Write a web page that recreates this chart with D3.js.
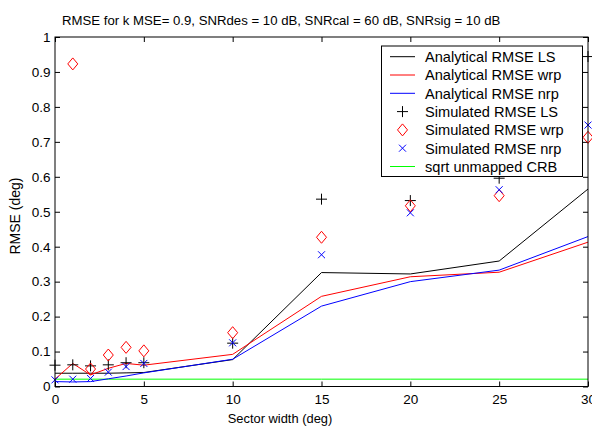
<!DOCTYPE html>
<html>
<head>
<meta charset="utf-8">
<script src="https://cdn.jsdelivr.net/npm/d3@7"></script>
<style>
  html, body { margin: 0; padding: 0; background: #fff; }
  svg { display: block; font-family: "Liberation Sans", Arial, sans-serif; }
</style>
</head>
<body>
<svg id="chart" width="592" height="426"></svg>
<script>
// Sector widths (deg)
const sectorWidth = [0, 1, 2, 3, 4, 5, 10, 15, 20, 25, 30];

// Analytical RMSE curves
const anaLS  = [0.038, 0.038, 0.038, 0.038, 0.039, 0.040, 0.077, 0.326, 0.322, 0.359, 0.565];
const anaWRP = [0.021, 0.066, 0.033, 0.052, 0.066, 0.061, 0.092, 0.258, 0.314, 0.327, 0.413];
const anaNRP = [0.014, 0.013, 0.014, 0.022, 0.030, 0.039, 0.078, 0.230, 0.300, 0.333, 0.429];

// Simulated RMSE points (null = not drawn)
const simLS  = [0.061, 0.062, 0.059, 0.062, 0.068, 0.068, 0.124, 0.536, 0.532, 0.596, 0.944];
const simWRP = [null, 0.923, 0.050, 0.090, 0.112, 0.102, 0.154, 0.427, 0.517, 0.546, 0.713];
const simNRP = [0.019, 0.021, 0.023, 0.041, 0.057, 0.066, 0.125, 0.377, 0.497, 0.563, 0.748];

// Unmapped CRB (constant)
const crb = [0.021, 0.021, 0.021, 0.021, 0.021, 0.021, 0.021, 0.021, 0.021, 0.021, 0.021];

const xTicks = [0, 5, 10, 15, 20, 25, 30];
const yTicks = [0, 0.1, 0.2, 0.3, 0.4, 0.5, 0.6, 0.7, 0.8, 0.9, 1];

const titleText = "RMSE for k MSE= 0.9, SNRdes = 10 dB, SNRcal = 60 dB, SNRsig = 10 dB";
const xLabel = "Sector width (deg)";
const yLabel = "RMSE (deg)";

const legendItems = [
  { label: "Analytical RMSE LS",  kind: "line", color: "#000000" },
  { label: "Analytical RMSE wrp", kind: "line", color: "#ff0000" },
  { label: "Analytical RMSE nrp", kind: "line", color: "#0000ff" },
  { label: "Simulated RMSE LS",   kind: "plus", color: "#000000" },
  { label: "Simulated RMSE wrp",  kind: "diamond", color: "#ff0000" },
  { label: "Simulated RMSE nrp",  kind: "cross", color: "#0000ff" },
  { label: "sqrt unmapped CRB",   kind: "line", color: "#00ff00" }
];

const svg = d3.select("#chart");
const plot = { left: 55, right: 588, top: 37, bottom: 386.5 };

const x = d3.scaleLinear().domain([0, 30]).range([plot.left, plot.right]);
const y = d3.scaleLinear().domain([0, 1]).range([plot.bottom, plot.top]);

const tickFont = 13.5;
const FONT = "Liberation Sans, Arial, sans-serif";

// Axes with inward ticks on all four sides
const fmt = d => String(+d.toFixed(1));
svg.append("g")
  .attr("transform", `translate(0,${plot.bottom})`)
  .call(d3.axisBottom(x).tickValues(xTicks).tickSize(-5).tickPadding(8).tickFormat(d3.format("d")))
  .call(g => g.select(".domain").remove())
  .call(g => g.selectAll("text").attr("font-size", tickFont).attr("font-family", FONT).attr("fill", "#000"));
svg.append("g")
  .attr("transform", `translate(0,${plot.top})`)
  .call(d3.axisTop(x).tickValues(xTicks).tickSize(-5).tickFormat(""))
  .call(g => g.select(".domain").remove());
svg.append("g")
  .attr("transform", `translate(${plot.left},0)`)
  .call(d3.axisLeft(y).tickValues(yTicks).tickSize(-5).tickPadding(4.5).tickFormat(fmt))
  .call(g => g.select(".domain").remove())
  .call(g => g.selectAll("text").attr("font-size", tickFont).attr("font-family", FONT).attr("fill", "#000"));
svg.append("g")
  .attr("transform", `translate(${plot.right},0)`)
  .call(d3.axisRight(y).tickValues(yTicks).tickSize(-5).tickFormat(""))
  .call(g => g.select(".domain").remove());

// Clip for lines
svg.append("clipPath").attr("id", "plotClip")
  .append("rect").attr("x", plot.left).attr("y", plot.top)
  .attr("width", plot.right - plot.left).attr("height", plot.bottom - plot.top);

const lineGen = d3.line().defined(d => d[1] != null).x(d => x(d[0])).y(d => y(d[1]));
const lines = [
  { data: crb, color: "#00ff00" },
  { data: anaLS, color: "#000000" },
  { data: anaWRP, color: "#ff0000" },
  { data: anaNRP, color: "#0000ff" }
];
const lineLayer = svg.append("g").attr("clip-path", "url(#plotClip)");
lines.forEach(s => {
  lineLayer.append("path")
    .datum(sectorWidth.map((w, i) => [w, s.data[i]]))
    .attr("fill", "none").attr("stroke", s.color).attr("stroke-width", 1)
    .attr("d", lineGen);
});

// Marker shapes
function drawMarker(g, kind, cx, cy, color) {
  if (kind === "plus") {
    g.append("path").attr("d", `M${cx-5.5},${cy}H${cx+5.5}M${cx},${cy-5.5}V${cy+5.5}`)
      .attr("stroke", color).attr("stroke-width", 1).attr("fill", "none");
  } else if (kind === "diamond") {
    g.append("path").attr("d", `M${cx},${cy-6}L${cx+5},${cy}L${cx},${cy+6}L${cx-5},${cy}Z`)
      .attr("stroke", color).attr("stroke-width", 1).attr("fill", "none");
  } else if (kind === "cross") {
    g.append("path").attr("d", `M${cx-3.5},${cy-3.5}L${cx+3.5},${cy+3.5}M${cx-3.5},${cy+3.5}L${cx+3.5},${cy-3.5}`)
      .attr("stroke", color).attr("stroke-width", 1).attr("fill", "none");
  }
}

const markerLayer = svg.append("g");
[
  { data: simLS, kind: "plus", color: "#000000" },
  { data: simWRP, kind: "diamond", color: "#ff0000" },
  { data: simNRP, kind: "cross", color: "#0000ff" }
].forEach(s => {
  sectorWidth.forEach((w, i) => {
    if (s.data[i] != null) drawMarker(markerLayer, s.kind, x(w), y(s.data[i]), s.color);
  });
});

// Frame
svg.append("rect")
  .attr("x", plot.left).attr("y", plot.top)
  .attr("width", plot.right - plot.left).attr("height", plot.bottom - plot.top)
  .attr("fill", "none").attr("stroke", "#000").attr("stroke-width", 1);

// Legend
const leg = { x: 381.5, y: 46, w: 201, h: 130.5, rowH: 18.3 };
const lg = svg.append("g");
lg.append("rect").attr("x", leg.x).attr("y", leg.y).attr("width", leg.w).attr("height", leg.h)
  .attr("fill", "#fff").attr("stroke", "#000").attr("stroke-width", 1);
legendItems.forEach((it, i) => {
  const cy = leg.y + 10.7 + i * leg.rowH;
  if (it.kind === "line") {
    lg.append("line").attr("x1", leg.x + 8.5).attr("x2", leg.x + 33.5)
      .attr("y1", cy).attr("y2", cy).attr("stroke", it.color).attr("stroke-width", 1);
  } else {
    drawMarker(lg, it.kind, leg.x + 21, cy, it.color);
  }
  lg.append("text").attr("x", leg.x + 43.5).attr("y", cy + 5.3)
    .attr("font-size", 14.6).attr("fill", "#000").text(it.label);
});

// Title and axis labels
svg.append("text").attr("x", 62).attr("y", 24.5)
  .attr("font-size", 13.2).attr("fill", "#000").text(titleText);
svg.append("text").attr("x", 280).attr("y", 422.5)
  .attr("text-anchor", "middle").attr("font-size", 12.9).attr("fill", "#000").text(xLabel);
svg.append("text")
  .attr("transform", `translate(20,216) rotate(-90)`)
  .attr("text-anchor", "middle").attr("font-size", 14).attr("fill", "#000").text(yLabel);
</script>
</body>
</html>
